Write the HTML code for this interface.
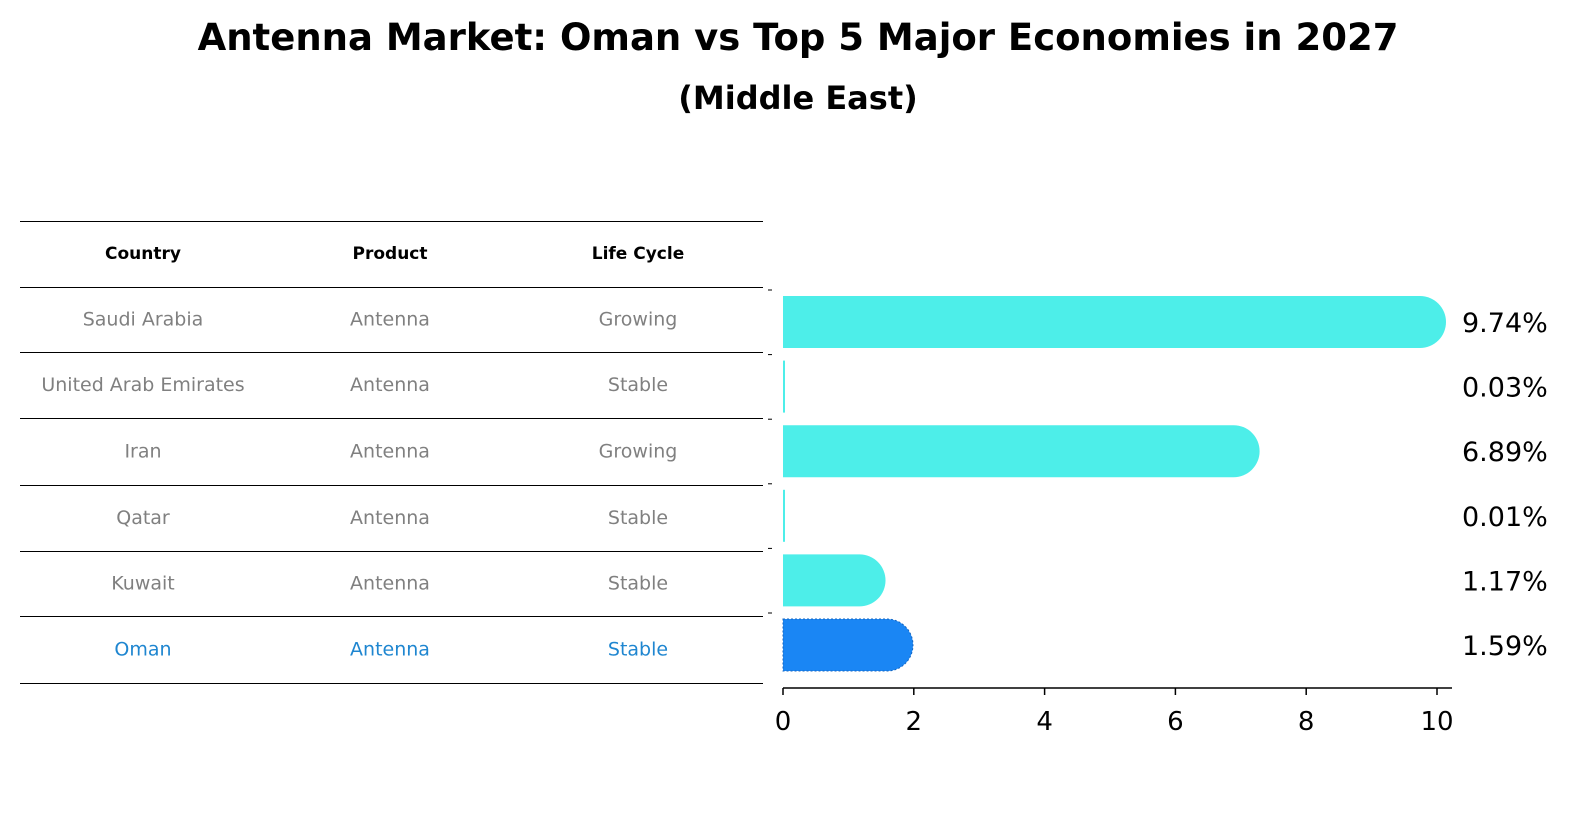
<!DOCTYPE html>
<html><head><meta charset="utf-8"><style>
body{margin:0;background:#fff;font-family:"DejaVu Sans","Liberation Sans",sans-serif;}
#wrap{position:relative;width:1586px;height:823px;overflow:hidden}
</style></head><body>
<div id="wrap">
<svg id="svg" width="1586" height="823">
<text x="798" y="50" text-anchor="middle" font-size="37" font-weight="bold">Antenna Market: Oman vs Top 5 Major Economies in 2027</text>
<text x="798" y="109" text-anchor="middle" font-size="32" font-weight="bold">(Middle East)</text>
<g id="table"></g>
<g id="bars"></g>
</svg>
</div>
<script>
const countries=["Saudi Arabia","United Arab Emirates","Iran","Qatar","Kuwait","Oman"];
const products=["Antenna","Antenna","Antenna","Antenna","Antenna","Antenna"];
const lifecycles=["Growing","Stable","Growing","Stable","Stable","Stable"];
const values=[9.74,0.03,6.89,0.01,1.17,1.59];
const labels=["9.74%","0.03%","6.89%","0.01%","1.17%","1.59%"];
const ticks=[0,2,4,6,8,10];

const NS="http://www.w3.org/2000/svg";
function mk(tag,attrs,parent,text){const e=document.createElementNS(NS,tag);for(const k in attrs)e.setAttribute(k,attrs[k]);if(text!==undefined)e.textContent=text;parent.appendChild(e);return e;}
const tbl=document.getElementById('table');
const lineYs=[221,287,352,418,485,551,616,683];
lineYs.forEach(y=>{const l=mk('line',{x1:20,x2:763,y1:y+0.5,y2:y+0.5,stroke:'#000','stroke-width':1},tbl);

});
const colX=[143,390,638];
["Country","Product","Life Cycle"].forEach((h,i)=>{const t=mk('text',{x:colX[i],y:259,'text-anchor':'middle','font-size':17,'font-weight':'bold'},tbl,h);

});
countries.forEach((c,r)=>{const y=(lineYs[r+1]+lineYs[r+2])/2+6;const col=r===5?'#1f86d0':'#808080';
[c,products[r],lifecycles[r]].forEach((v,i)=>{const t=mk('text',{x:colX[i],y:y,'text-anchor':'middle','font-size':19,fill:col},tbl,v);

});});

const g=document.getElementById('bars');
const x0=783,scale=65.4;const xs=v=>x0+v*scale;
const yc=i=>322+i*64.6;const bh=52;
values.forEach((v,i)=>{const w=xs(v)-x0;const y=yc(i)-bh/2;let el;
const fill=i===5?'#1a86f4':'#4deee9';
if(w<3){el=mk('rect',{x:x0,y:y,width:2,height:bh,fill:fill},g);}
else{const r=bh/2;const d=`M${x0},${y} H${x0+w} A${r},${r} 0 0 1 ${x0+w},${y+bh} H${x0} Z`;
el=mk('path',{d:d,fill:fill},g);
if(i===5){el.setAttribute('stroke','#1565c0');el.setAttribute('stroke-dasharray','2,2');el.setAttribute('stroke-width','1');}}


const t=mk('text',{x:1462,y:yc(i)+10,'font-size':27},g,labels[i]);


const tk=mk('line',{x1:768,x2:772,y1:yc(i)-32,y2:yc(i)-32,stroke:'#000'},g);

});
const ax=mk('line',{x1:x0,x2:1452,y1:688,y2:688,stroke:'#000','stroke-width':1.5},g);


ticks.forEach(t=>{const l=mk('line',{x1:xs(t),x2:xs(t),y1:688,y2:695,stroke:'#000','stroke-width':1.5},g);


const tx=mk('text',{x:xs(t),y:730,'text-anchor':'middle','font-size':26},g,String(t));

});
</script>
</body></html>
